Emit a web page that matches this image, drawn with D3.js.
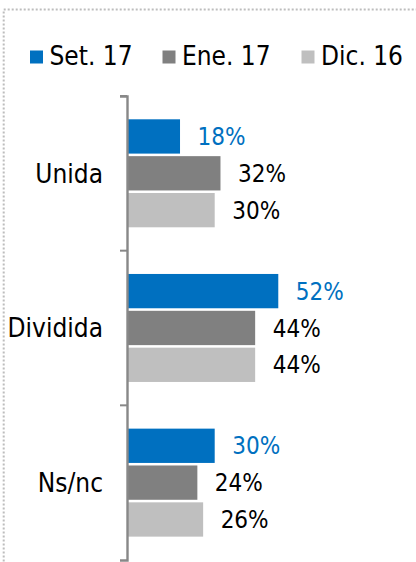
<!DOCTYPE html>
<html>
<head>
<meta charset="utf-8">
<script src="https://cdnjs.cloudflare.com/ajax/libs/d3/7.8.5/d3.min.js"></script>
<style>
  html, body { margin: 0; padding: 0; background: #fff; }
  svg { display: block; }
  text { font-family: "DejaVu Sans Condensed", "DejaVu Sans", sans-serif; font-stretch: condensed; }
</style>
</head>
<body>
<div id="chart"></div>
<script>
// categories and series
var categories = ['Unida', 'Dividida', 'Ns/nc'];
var seriesNames = ['Set. 17', 'Ene. 17', 'Dic. 16'];
var set17 = [18, 52, 30];
var ene17 = [32, 44, 24];
var dic16 = [30, 44, 26];
var colors = ['#0070C0', '#808080', '#BFBFBF'];

var width = 416, height = 562;

var svg = d3.select('#chart').append('svg')
  .attr('width', width)
  .attr('height', height);

// dotted frame (only top and left edges are visible)
svg.append('rect')
  .attr('x', 3.7)
  .attr('y', 9.5)
  .attr('width', 440)
  .attr('height', 600)
  .attr('fill', 'none')
  .attr('stroke', '#BDBDBD')
  .attr('stroke-width', 2)
  .attr('stroke-dasharray', '2,2');

// scales
var x = d3.scaleLinear().domain([0, 100]).range([128, 417]);
var y = d3.scaleBand().domain(categories).range([96, 560]);
var inner = d3.scaleBand().domain(seriesNames)
  .range([23.3, 131.3])
  .paddingInner(0.069);

// build rows from the arrays
var allSeries = [set17, ene17, dic16];
var rows = categories.map(function(c, i) {
  return {
    cat: c,
    vals: seriesNames.map(function(s, j) {
      return { name: s, value: allSeries[j][i], color: colors[j], idx: j };
    })
  };
});

var groups = svg.selectAll('g.cat')
  .data(rows)
  .enter().append('g')
  .attr('class', 'cat')
  .attr('transform', function(d) { return 'translate(0,' + y(d.cat) + ')'; });

groups.selectAll('rect')
  .data(function(d) { return d.vals; })
  .enter().append('rect')
  .attr('x', x(0))
  .attr('y', function(d) { return inner(d.name); })
  .attr('width', function(d) { return x(d.value) - x(0); })
  .attr('height', inner.bandwidth())
  .attr('fill', function(d) { return d.color; });

groups.selectAll('text.val')
  .data(function(d) { return d.vals; })
  .enter().append('text')
  .attr('class', 'val')
  .attr('x', function(d) { return x(d.value) + 17.5; })
  .attr('y', function(d) { return inner(d.name) + inner.bandwidth() / 2; })
  .attr('dy', '0.36em')
  .attr('font-size', 24)
  .attr('fill', function(d) { return d.idx === 0 ? '#0070C0' : '#000'; })
  .text(function(d) { return d.value + '%'; });

// category axis
var axis = d3.axisLeft(y).tickSize(7).tickPadding(17).tickSizeOuter(7);
var gAxis = svg.append('g')
  .attr('transform', 'translate(127,0)')
  .call(axis);
gAxis.select('.domain').attr('stroke', '#888').attr('stroke-width', 2.4);
gAxis.selectAll('.tick').attr('transform', function(d) {
  return 'translate(0,' + y(d) + ')';
});
gAxis.selectAll('.tick line').attr('stroke', '#888').attr('stroke-width', 2);
// extra tick at the bottom end
gAxis.selectAll('.tick text')
  .attr('y', y.bandwidth() / 2)
  .attr('dy', '0.36em')
  .attr('x', -24)
  .attr('font-size', 26)
  .attr('fill', '#000');

// legend
var legendX = [30, 162.5, 301.5];
var legend = svg.selectAll('g.leg')
  .data(seriesNames)
  .enter().append('g')
  .attr('class', 'leg')
  .attr('transform', function(d, i) { return 'translate(' + legendX[i] + ',50.5)'; });
legend.append('rect')
  .attr('width', 13)
  .attr('height', 13)
  .attr('fill', function(d, i) { return colors[i]; });
legend.append('text')
  .attr('x', 19.5)
  .attr('y', 14.5)
  .attr('font-size', 26)
  .attr('fill', '#000')
  .text(function(d) { return d; });
</script>
</body>
</html>
